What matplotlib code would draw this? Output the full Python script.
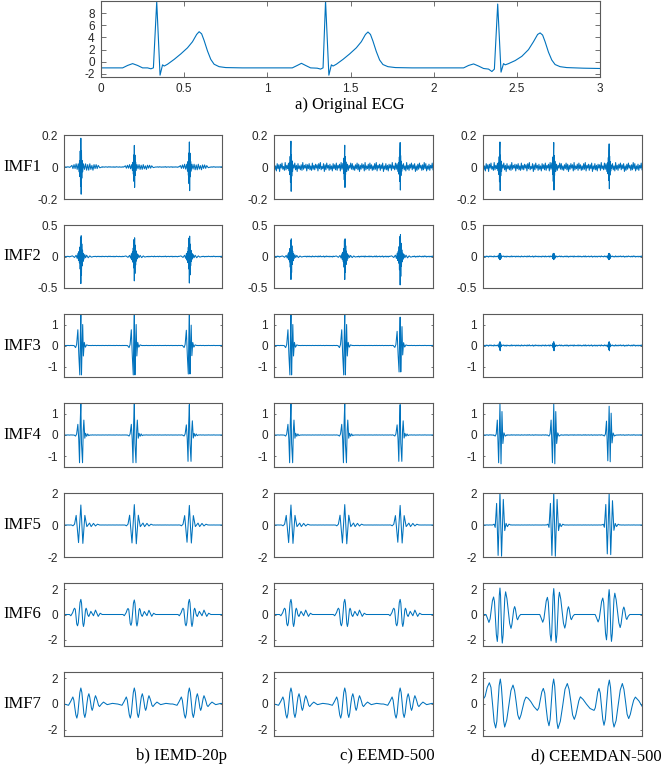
import numpy as np
import matplotlib
matplotlib.use("Agg")
import matplotlib.pyplot as plt

plt.rcParams['axes.unicode_minus'] = False

BLUE = '#0072BD'
INK = '#262626'
EDGE = '#5a5a5a'
TICK_FONT = 'Liberation Sans'
TEXT_FONT = 'Liberation Serif'

# a) original ECG
ECG_T = [0.00, 0.13, 0.16, 0.19, 0.22, 0.25, 0.28, 0.30, 0.315, 0.335, 0.355, 0.37, 0.38, 0.40,
         0.44, 0.48, 0.52, 0.55, 0.575, 0.59, 0.605, 0.62, 0.64, 0.66, 0.68, 0.71, 0.75, 0.85,
         1.15, 1.18, 1.205, 1.23, 1.26, 1.30, 1.32, 1.335, 1.35, 1.37, 1.385, 1.395, 1.415, 1.455,
         1.495, 1.535, 1.565, 1.59, 1.605, 1.62, 1.635, 1.655, 1.675, 1.695, 1.725, 1.77, 1.87,
         2.18, 2.21, 2.24, 2.27, 2.30, 2.33, 2.35, 2.365, 2.385, 2.405, 2.42, 2.43, 2.45, 2.49,
         2.53, 2.57, 2.60, 2.625, 2.64, 2.655, 2.67, 2.69, 2.71, 2.73, 2.76, 2.80, 2.90, 3.00]
ECG_V = [-1.0, -1.0, -0.6, -0.3, -0.6, -1.0, -1.0, -1.15, -1.0, 9.9, -2.2, -0.5, -0.7, -0.4,
         0.4, 1.3, 2.3, 3.3, 4.5, 4.95, 4.6, 3.5, 1.8, 0.4, -0.4, -0.8, -0.95, -1.0,
         -1.0, -0.6, -0.25, -0.6, -1.0, -1.05, -1.2, -1.0, 10.0, -2.2, -0.5, -0.7, -0.4, 0.4,
         1.3, 2.3, 3.3, 4.5, 4.9, 4.5, 3.4, 1.7, 0.3, -0.45, -0.8, -0.95, -1.0,
         -1.0, -0.6, -0.35, -0.7, -1.1, -1.2, -1.6, -1.2, 9.5, -1.7, -0.3, -0.5, -0.3, 0.2,
         0.9, 2.0, 3.3, 4.5, 4.75, 4.4, 3.3, 1.6, 0.3, -0.45, -0.8, -0.95, -1.05, -1.1]

# R-peak times seen in the IMF panels
BEATS = [0.32, 1.335, 2.38]

# baseline wiggle, tenths of the panel's noise amplitude
NOISE = [3, -5, 2, -7, 6, -3, 4, -8, 5, -2, 7, -4, 1, -6, 8, -5, 3, -3, 6, -7,
         2, -4, 5, -6, 4, -2, 7, -5, 3, -8, 6, -3, 2, -5, 4, -6, 8, -4, 3, -2,
         5, -7, 4, -3, 6, -5, 2, -6, 7, -4, 3, -5, 5, -2, 4, -7, 6, -3, 8, -5,
         1, -3, 6, -8, 4, -5, 7, -2, 3, -6, 5, -4, 2, -7, 6, -3, 4, -5, 7, -6,
         3, -2, 5, -7, 8, -4, 2, -5, 6, -3, 4, -8, 5, -6, 3, -2, 7, -4, 6, -5,
         2, -6, 4, -3, 7, -5, 5, -8, 3, -4, 6, -2, 4, -7, 8, -5, 2, -3, 5, -6,
         7, -3, 4, -6, 2, -5, 6, -4, 8, -7, 3, -2, 5, -6, 4, -3, 7, -8, 2, -4,
         6, -5, 3, -7, 5, -2, 4, -6, 8, -3, 2, -5, 7, -4, 6, -8, 3, -2, 5, -7,
         4, -3, 6, -5, 2, -7, 8, -4, 3, -6, 5, -2, 7, -5, 4, -3, 6, -8, 2, -6,
         5, -4, 7, -2, 3, -6, 4, -5, 8, -3, 6, -7, 2, -4, 5, -6, 3, -2, 7, -5]

# beat shapes (offset from R peak in s, value)
SPIKE1_DT = [-0.20, -0.17, -0.15, -0.13, -0.11, -0.09, -0.07, -0.05, -0.035, -0.025, -0.018, -0.012,
             -0.006, 0.0, 0.006, 0.012, 0.018, 0.025, 0.035, 0.05, 0.07, 0.09, 0.11, 0.13, 0.15,
             0.17, 0.19, 0.21, 0.23, 0.25, 0.27, 0.29, 0.31, 0.33, 0.36, 0.40]
SPIKE1_V = [0, 0.01, -0.01, 0.015, -0.01, 0.02, -0.015, 0.02, -0.03, 0.04, -0.06, 0.1,
            -0.12, 0.18, -0.17, 0.1, -0.07, 0.04, -0.03, 0.02, -0.015, 0.02, -0.02, 0.015, -0.02,
            0.02, -0.015, 0.01, -0.02, 0.015, -0.01, 0.015, -0.01, 0.01, -0.005, 0]
SPIKE_DT = [-0.03, -0.022, -0.015, -0.009, -0.004, 0.0, 0.004, 0.009, 0.015, 0.022, 0.03]
SPIKE_V = [0.03, -0.05, 0.07, -0.1, 0.12, 0.17, -0.16, 0.08, -0.06, 0.04, -0.03]
BURST2_DT = [-0.2, -0.16, -0.12, -0.09, -0.07, -0.055, -0.045, -0.035, -0.027, -0.02, -0.013,
             -0.006, 0.0, 0.006, 0.012, 0.018, 0.025, 0.032, 0.04, 0.05, 0.06, 0.075, 0.09,
             0.11, 0.14, 0.17, 0.2, 0.24]
BURST2_V = [0, 0.01, -0.015, 0.02, -0.03, 0.05, -0.06, 0.08, -0.1, 0.15, -0.2, 0.3, -0.43,
            0.33, -0.3, 0.2, -0.15, 0.1, -0.08, 0.05, -0.04, 0.03, -0.02, 0.02, -0.02, 0.01,
            -0.01, 0]
BLOB_DT = [-0.03, -0.02, -0.012, -0.005, 0.0, 0.005, 0.012, 0.02, 0.03]
BLOB2_V = [0.01, -0.03, 0.045, -0.05, 0.05, -0.045, 0.04, -0.03, 0.01]
BLOB3_V = [0.02, -0.08, 0.12, -0.2, 0.18, -0.25, 0.1, -0.06, 0.02]
BURST3_DT = [-0.13, -0.1, -0.08, -0.057, -0.038, -0.02, -0.01, 0.0, 0.012, 0.022, 0.035,
             0.048, 0.065, 0.085, 0.11, 0.14]
BURST3_V = [0, -0.1, 0.05, 0.75, -0.5, -1.4, 0.4, 1.5, -1.4, -0.2, 1.0, -0.5, 0.15, -0.08,
            0.03, 0]
BURST4_DT = [-0.13, -0.1, -0.08, -0.057, -0.04, -0.025, -0.012, 0.0, 0.012, 0.032, 0.045,
             0.057, 0.075, 0.09, 0.11, 0.13, 0.15, 0.17]
BURST4_V = [0, -0.05, 0.05, 0.5, -0.2, -1.3, 0.6, 1.5, -0.4, -1.3, 0.2, 0.7, -0.15, 0.08,
            -0.06, 0.05, -0.03, 0]
BURST4C_DT = [-0.12, -0.09, -0.07, -0.05, -0.025, 0.0, 0.02, 0.038, 0.055, 0.075, 0.1, 0.13]
BURST4C_V = [0, -0.05, 0.05, 0.7, -1.3, 1.45, -1.35, 1.1, -0.4, 0.1, -0.05, 0]
WAVE5_DT = [-0.177, -0.15, -0.12, -0.089, -0.044, 0.0, 0.038, 0.076, 0.114, 0.165, 0.196,
            0.24, 0.278, 0.316, 0.354]
WAVE5_V = [0, -0.05, 0.05, 0.6, -1.1, 1.25, -1.15, 0.6, -0.1, 0.12, -0.1, 0.1, -0.06, 0.05, 0]
WAVE5C_DT = [-0.14, -0.11, -0.09, -0.063, -0.035, 0.0, 0.03, 0.063, 0.09, 0.115, 0.14, 0.17, 0.2]
WAVE5C_V = [0, 0.05, -0.15, 1.35, -1.9, 2.05, -1.95, 1.6, -0.35, 0.1, -0.1, 0.05, 0]
WAVE6_DT = [-0.215, -0.19, -0.155, -0.135, -0.12, -0.105, -0.092, -0.078, -0.063, -0.048,
            -0.032, -0.016, 0.0, 0.013, 0.025, 0.038, 0.05, 0.063, 0.075, 0.088, 0.1, 0.114,
            0.126, 0.14, 0.152, 0.171, 0.19, 0.215, 0.24, 0.26, 0.278, 0.305, 0.33, 0.35,
            0.367, 0.405]
WAVE6_V = [0, -0.1, 0.15, 0.4, 0.5, 0.4, -0.2, -0.75, -0.9, -0.65, 0.15, 0.95, 1.2, 0.9, 0.1,
           -0.7, -0.95, -0.7, -0.2, 0.35, 0.5, 0.35, 0.05, -0.1, -0.15, 0.05, 0.25, 0.08,
           -0.1, 0.15, 0.35, 0.1, -0.15, -0.02, 0.1, 0]
WAVE6C_DT = [-0.264, -0.236, -0.208, -0.186, -0.164, -0.142, -0.12, -0.103, -0.085, -0.068,
             -0.05, -0.038, -0.025, -0.013, 0.0, 0.011, 0.022, 0.033, 0.044, 0.06, 0.075,
             0.091, 0.107, 0.132, 0.157, 0.183, 0.208, 0.225, 0.243, 0.26, 0.277, 0.291,
             0.305, 0.319, 0.333, 0.36, 0.39]
WAVE6C_V = [0, -0.3, -0.63, -0.35, 0.4, 1.1, 1.39, 1.0, -0.3, -1.6, -2.14, -1.5, 0.0, 1.5,
            2.1, 1.5, -0.1, -1.65, -2.27, -1.6, -0.2, 1.3, 1.8, 1.25, 0.3, -0.7, -1.1, -0.8,
            -0.2, 0.4, 0.63, 0.45, 0.05, -0.3, -0.42, -0.15, 0]
WAVE7_DT = [-0.316, -0.275, -0.234, -0.193, -0.152, -0.133, -0.114, -0.095, -0.076, -0.057,
            -0.038, -0.019, 0.0, 0.019, 0.038, 0.057, 0.076, 0.095, 0.114, 0.133, 0.152,
            0.168, 0.184, 0.2, 0.215, 0.231, 0.247, 0.263, 0.278, 0.297, 0.316, 0.335, 0.354,
            0.392, 0.43, 0.465, 0.5, 0.55, 0.6, 0.69]
WAVE7_V = [0, -0.05, -0.1, 0.2, 0.55, 0.3, -0.3, -0.85, -1.1, -0.75, 0.1, 0.9, 1.25, 0.9,
           0.1, -0.75, -1.05, -0.7, 0.0, 0.55, 0.8, 0.55, 0.15, -0.3, -0.5, -0.3, 0.1, 0.45,
           0.65, 0.45, 0.2, -0.1, -0.2, 0.0, 0.15, 0.05, -0.05, 0.0, 0.05, 0.0]

# d) CEEMDAN IMF7 is one long wave, read point by point
CEEMDAN7_T = [0.0, 0.04, 0.08, 0.12, 0.15, 0.18, 0.21, 0.239, 0.261, 0.283, 0.305, 0.327,
              0.347, 0.368, 0.389, 0.409, 0.448, 0.488, 0.527, 0.566, 0.596, 0.626, 0.656,
              0.686, 0.717, 0.748, 0.78, 0.811, 0.85, 0.9, 0.96, 1.025, 1.053, 1.082, 1.11,
              1.138, 1.165, 1.19, 1.218, 1.245, 1.267, 1.289, 1.311, 1.333, 1.353, 1.374,
              1.395, 1.415, 1.459, 1.503, 1.547, 1.591, 1.624, 1.657, 1.69, 1.723, 1.752,
              1.78, 1.808, 1.837, 1.89, 1.95, 2.02, 2.095, 2.118, 2.142, 2.165, 2.189, 2.212,
              2.236, 2.26, 2.283, 2.308, 2.333, 2.358, 2.384, 2.406, 2.428, 2.45, 2.472,
              2.511, 2.55, 2.59, 2.629, 2.659, 2.689, 2.719, 2.749, 2.78, 2.812, 2.843,
              2.875, 2.94, 3.0]
CEEMDAN7_V = [0.35, 0.6, 1.3, 1.66, 1.3, 0.0, -1.4, -1.87, -1.35, 0.05, 1.45, 1.95,
              1.35, 0.1, -1.3, -1.8, -1.25, -0.1, 1.05, 1.48, 1.05, 0.15, -0.85,
              -1.2, -0.85, -0.3, 0.25, 0.54, 0.45, 0.2, -0.2, -0.5, -0.3, 0.35, 0.95,
              1.22, 0.85, -0.25, -1.25, -1.7, -1.2, 0.1, 1.4, 1.95, 1.4, 0.0,
              -1.4, -1.92, -1.35, -0.15, 1.15, 1.6, 1.15, 0.2, -0.85, -1.2, -0.85,
              -0.3, 0.25, 0.56, 0.35, 0.0, -0.35, -0.5, -0.3, 0.3, 0.95, 1.22, 0.85,
              -0.2, -1.2, -1.66, -1.2, 0.1, 1.35, 1.87, 1.3, -0.05, -1.35, -1.8,
              -1.3, -0.1, 1.1, 1.6, 1.15, 0.2, -0.8, -1.14, -0.8, -0.2, 0.3,
              0.54, 0.25, -0.17]

# (shape offsets, shape values, per-beat gain, noise amplitude) for row, column
PANELS = {
    (0, 0): (SPIKE1_DT, SPIKE1_V, [1.0, 0.75, 0.87], 0.003),
    (0, 1): (SPIKE_DT, SPIKE_V, [0.95, 0.8, 0.9], 0.035),
    (0, 2): (SPIKE_DT, SPIKE_V, [0.92, 0.9, 0.85], 0.035),
    (1, 0): (BURST2_DT, BURST2_V, [1.0, 0.9, 0.98], 0.008),
    (1, 1): (BURST2_DT, BURST2_V, [0.85, 0.85, 1.05], 0.012),
    (1, 2): (BLOB_DT, BLOB2_V, [1.0, 1.0, 1.0], 0.012),
    (2, 0): (BURST3_DT, BURST3_V, [1.0, 1.0, 0.97], 0.01),
    (2, 1): (BURST3_DT, BURST3_V, [1.0, 1.0, 0.9], 0.01),
    (2, 2): (BLOB_DT, BLOB3_V, [1.0, 1.0, 1.0], 0.04),
    (3, 0): (BURST4_DT, BURST4_V, [1.0, 1.0, 0.95], 0.01),
    (3, 1): (BURST4_DT, BURST4_V, [1.0, 1.0, 0.95], 0.01),
    (3, 2): (BURST4C_DT, BURST4C_V, [1.0, 1.0, 0.93], 0.02),
    (4, 0): (WAVE5_DT, WAVE5_V, [1.0, 1.02, 0.98], 0.005),
    (4, 1): (WAVE5_DT, WAVE5_V, [1.0, 1.02, 0.98], 0.005),
    (4, 2): (WAVE5C_DT, WAVE5C_V, [1.0, 1.0, 0.95], 0.01),
    (5, 0): (WAVE6_DT, WAVE6_V, [1.0, 0.96, 1.0], 0.0),
    (5, 1): (WAVE6_DT, WAVE6_V, [1.0, 1.0, 1.0], 0.0),
    (5, 2): (WAVE6C_DT, WAVE6C_V, [1.0, 0.98, 0.94], 0.0),
    (6, 0): (WAVE7_DT, WAVE7_V, [1.0, 1.0, 1.0], 0.0),
    (6, 1): (WAVE7_DT, WAVE7_V, [1.0, 1.0, 1.0], 0.0),
}

ROW_NAMES = ['IMF1', 'IMF2', 'IMF3', 'IMF4', 'IMF5', 'IMF6', 'IMF7']
ROW_LIMS = [(-0.2, 0.2), (-0.5, 0.5), (-1.5, 1.5), (-1.5, 1.5), (-2, 2), (-2.5, 2.5), (-2.5, 2.5)]
ROW_TICKS = [[-0.2, 0, 0.2], [-0.5, 0, 0.5], [-1, 0, 1], [-1, 0, 1], [-2, 0, 2], [-2, 0, 2], [-2, 0, 2]]
ROW_TICKLABELS = [['-0.2', '0', '0.2'], ['-0.5', '0', '0.5'], ['-1', '0', '1'], ['-1', '0', '1'],
                  ['-2', '0', '2'], ['-2', '0', '2'], ['-2', '0', '2']]
CAPTIONS = ['b) IEMD-20p', 'c) EEMD-500', 'd) CEEMDAN-500']


def compose(dt, v, gains, noise_amp):
    # baseline samples outside the beats, beat shapes inside them
    tb = np.linspace(0, 3, len(NOISE))
    vb = np.array(NOISE, float) / 10 * noise_amp
    dt = np.asarray(dt, float)
    v = np.asarray(v, float)
    keep = np.ones(len(tb), bool)
    ts, vs = [], []
    for r, g in zip(BEATS, gains):
        keep &= ~((tb >= r + dt[0]) & (tb <= r + dt[-1]))
        ts.append(r + dt)
        vs.append(g * v)
    ts.append(tb[keep])
    vs.append(vb[keep])
    t = np.concatenate(ts)
    y = np.concatenate(vs)
    order = np.argsort(t)
    return t[order], y[order]


def style(ax, ticklen):
    for s in ax.spines.values():
        s.set_color(EDGE)
        s.set_linewidth(0.8)
    ax.tick_params(direction='in', length=ticklen, width=0.6, color=EDGE,
                   labelcolor=INK, labelsize=8.5, right=True, top=True, pad=4.5)
    for lab in ax.get_xticklabels() + ax.get_yticklabels():
        lab.set_family(TICK_FONT)


W, H = 662, 767
fig = plt.figure(figsize=(W / 100, H / 100), dpi=100)


def px_axes(left, top, right, bottom):
    return fig.add_axes([left / W, 1 - bottom / H, (right - left) / W, (bottom - top) / H])


# top panel
ax = px_axes(101, 1, 600, 77)
ax.plot(ECG_T, ECG_V, color=BLUE, lw=0.8)
ax.set_xlim(0, 3)
ax.set_ylim(-2.5, 10)
ax.set_xticks([0, 0.5, 1, 1.5, 2, 2.5, 3])
ax.set_xticklabels(['0', '0.5', '1', '1.5', '2', '2.5', '3'])
ax.set_yticks([-2, 0, 2, 4, 6, 8])
ax.set_yticklabels(['-2', '0', '2', '4', '6', '8'])
style(ax, 3.5)
fig.text(350 / W, 1 - 105 / H, 'a) Original ECG', ha='center', va='center',
         family=TEXT_FONT, fontsize=12, color='black')

# grid of IMFs
COL_X = [(64, 222), (274, 433), (483, 642)]
ROW_Y = [(135, 199), (225, 288), (314, 377), (403, 467), (493, 557), (583, 646), (672, 736)]

for r in range(7):
    for c in range(3):
        left, right = COL_X[c]
        top, bottom = ROW_Y[r]
        ax = px_axes(left, top, right, bottom)
        if (r, c) == (6, 2):
            t, y = CEEMDAN7_T, CEEMDAN7_V
        else:
            t, y = compose(*PANELS[(r, c)])
        ax.plot(t, y, color=BLUE, lw=0.75)
        ax.set_xlim(0, 3)
        ax.set_ylim(*ROW_LIMS[r])
        ax.set_xticks([])
        ax.set_yticks(ROW_TICKS[r])
        ax.set_yticklabels(ROW_TICKLABELS[r])
        style(ax, 1.3)
    fig.text(22 / W, 1 - (sum(ROW_Y[r]) / 2) / H, ROW_NAMES[r], ha='center', va='center',
             family=TEXT_FONT, fontsize=12, color='black')

for x, cap in zip([182, 387, 596], CAPTIONS):
    fig.text(x / W, 1 - 756 / H, cap, ha='center', va='center',
             family=TEXT_FONT, fontsize=12, color='black')

fig.savefig('out.png', dpi=100)
